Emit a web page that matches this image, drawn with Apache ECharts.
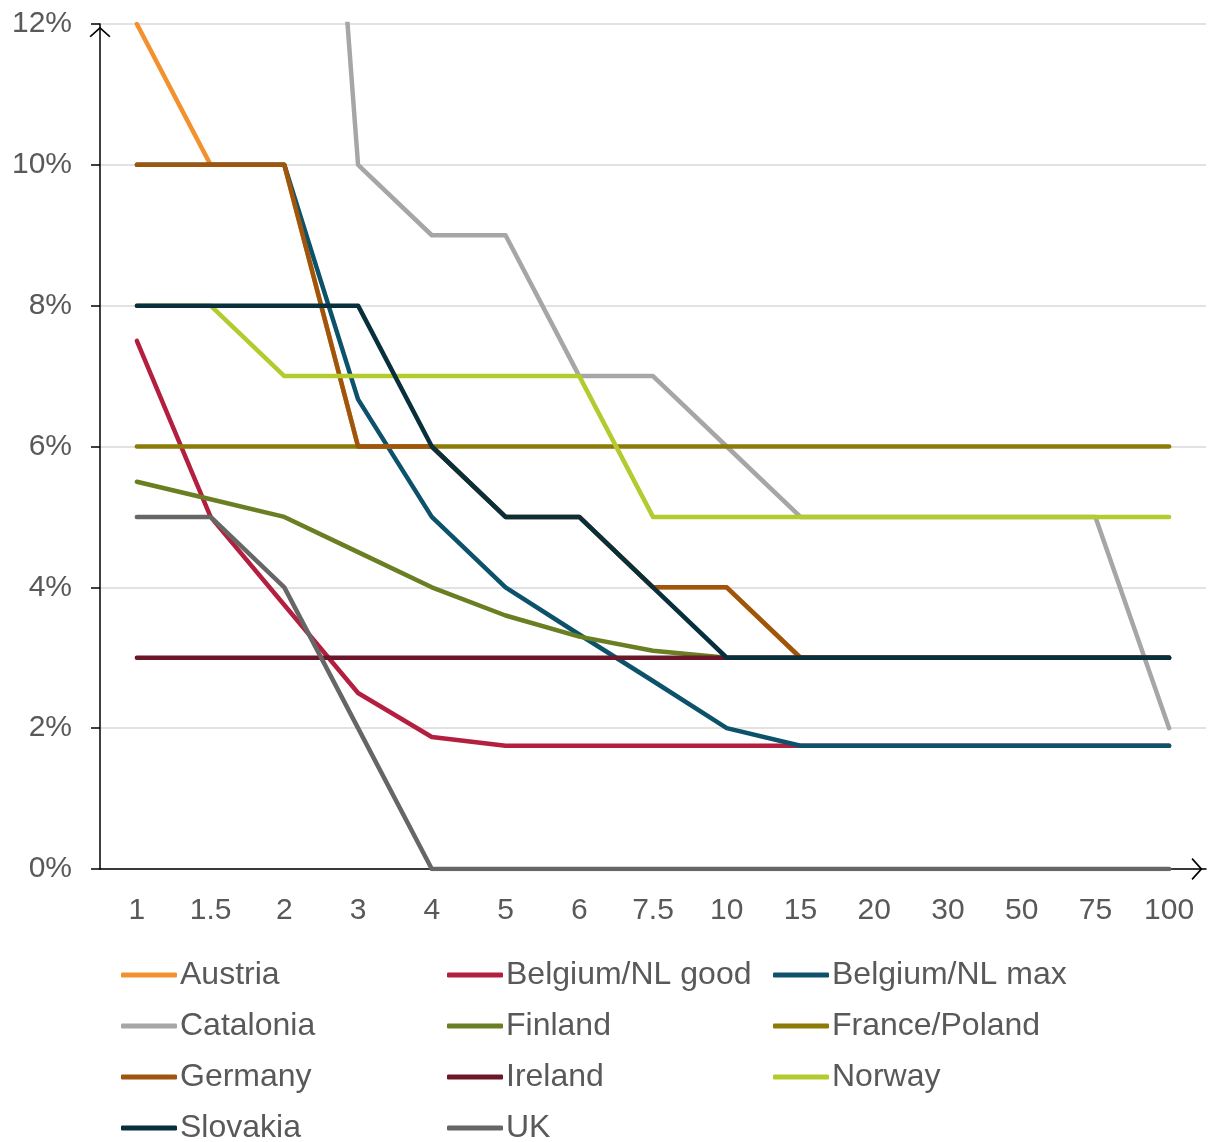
<!DOCTYPE html>
<html>
<head>
<meta charset="utf-8">
<script src="https://cdn.jsdelivr.net/npm/echarts@6/dist/echarts.min.js"></script>
<style>
html,body{margin:0;padding:0;background:#fff;}
#chart{width:1208px;height:1142px;}
</style>
</head>
<body>
<div id="chart"></div>
<script>
// Categories (x axis)
const categories = ['1','1.5','2','3','4','5','6','7.5','10','15','20','30','50','75','100'];
// Series values (percent)
const austria      = [12, 10, 10, 6, 6, 5, 5, 4, 4, 3, 3, 3, 3, 3, 3];
const belgiumGood  = [7.5, 5, 3.75, 2.5, 1.875, 1.75, 1.75, 1.75, 1.75, 1.75, 1.75, 1.75, 1.75, 1.75, 1.75];
const belgiumMax   = [10, 10, 10, 6.67, 5, 4, 3.33, 2.67, 2, 1.75, 1.75, 1.75, 1.75, 1.75, 1.75];
const catalonia    = [40, 32, 24, 10, 9, 9, 7, 7, 6, 5, 5, 5, 5, 5, 2];
const finland      = [5.5, 5.25, 5, 4.5, 4, 3.6, 3.3, 3.1, 3, 3, 3, 3, 3, 3, 3];
const francePoland = [6, 6, 6, 6, 6, 6, 6, 6, 6, 6, 6, 6, 6, 6, 6];
const germany      = [10, 10, 10, 6, 6, 5, 5, 4, 4, 3, 3, 3, 3, 3, 3];
const ireland      = [3, 3, 3, 3, 3, 3, 3, 3, 3, 3, 3, 3, 3, 3, 3];
const norway       = [8, 8, 7, 7, 7, 7, 7, 5, 5, 5, 5, 5, 5, 5, 5];
const slovakia     = [8, 8, 8, 8, 6, 5, 5, 4, 3, 3, 3, 3, 3, 3, 3];
const uk           = [5, 5, 4, 2, 0, 0, 0, 0, 0, 0, 0, 0, 0, 0, 0];
// Y ticks
const yTicks = [0, 2, 4, 6, 8, 10, 12];

const seriesDefs = [
  {name: 'Austria', data: austria, color: '#F4912F'},
  {name: 'Belgium/NL good', data: belgiumGood, color: '#B41F40'},
  {name: 'Belgium/NL max', data: belgiumMax, color: '#0C526B'},
  {name: 'Catalonia', data: catalonia, color: '#A6A6A6'},
  {name: 'Finland', data: finland, color: '#6A7E22'},
  {name: 'France/Poland', data: francePoland, color: '#8C7B07'},
  {name: 'Germany', data: germany, color: '#A0550D'},
  {name: 'Ireland', data: ireland, color: '#6B1629'},
  {name: 'Norway', data: norway, color: '#B3CB2F'},
  {name: 'Slovakia', data: slovakia, color: '#072F3C'},
  {name: 'UK', data: uk, color: '#666666'}
];

const chevron = 'path://M0,0 L10,9 L8.8,10.1 L0,2.1 L-8.8,10.1 L-10,9 Z';
const colX = [121, 447, 773];
const rowY = [957, 1008, 1059, 1110];
const FONT = 'Liberation Sans, Arial, sans-serif';

const legends = seriesDefs.map((s, i) => ({
  data: [{name: s.name}],
  left: colX[i % 3],
  top: rowY[Math.floor(i / 3)],
  padding: 0,
  icon: 'roundRect',
  itemWidth: 56,
  itemHeight: 5,
  selectedMode: false,
  textStyle: {fontFamily: FONT, fontSize: 32, color: '#595959', lineHeight: 36, padding: [0, 0, 0, -2]}
}));

const option = {
  animation: false,
  backgroundColor: '#fff',
  grid: {left: 100, right: 2, top: 24, bottom: 273, containLabel: false},
  legend: legends,
  xAxis: {
    type: 'category',
    data: categories,
    boundaryGap: true,
    axisLine: {show: true, lineStyle: {color: '#000', width: 1.5}, symbol: ['none', chevron], symbolSize: [22, 19], symbolOffset: [0, -9]},
    axisTick: {show: false},
    axisLabel: {margin: 27, fontFamily: FONT, fontSize: 30, color: '#595959', interval: 0},
    splitLine: {show: false}
  },
  yAxis: {
    type: 'value',
    min: yTicks[0],
    max: yTicks[yTicks.length - 1],
    interval: yTicks[1] - yTicks[0],
    axisLine: {show: true, lineStyle: {color: '#000', width: 1.5}, symbol: ['none', chevron], symbolSize: [21, 18], symbolOffset: [0, -8]},
    axisTick: {show: true, length: 9, lineStyle: {color: '#000', width: 1.5}},
    axisLabel: {margin: 28, fontFamily: FONT, fontSize: 30, color: '#595959', formatter: '{value}%'},
    splitLine: {show: true, lineStyle: {color: '#D9D9D9', width: 1.5}}
  },
  series: seriesDefs.map(s => ({
    name: s.name,
    type: 'line',
    data: s.data,
    symbol: 'none',
    clip: true,
    color: s.color,
    lineStyle: {color: s.color, width: 4.5, cap: 'round', join: 'round'},
    itemStyle: {color: s.color}
  }))
};

const chart = echarts.init(document.getElementById('chart'), null, {renderer: 'canvas'});
chart.setOption(option);
</script>
</body>
</html>
